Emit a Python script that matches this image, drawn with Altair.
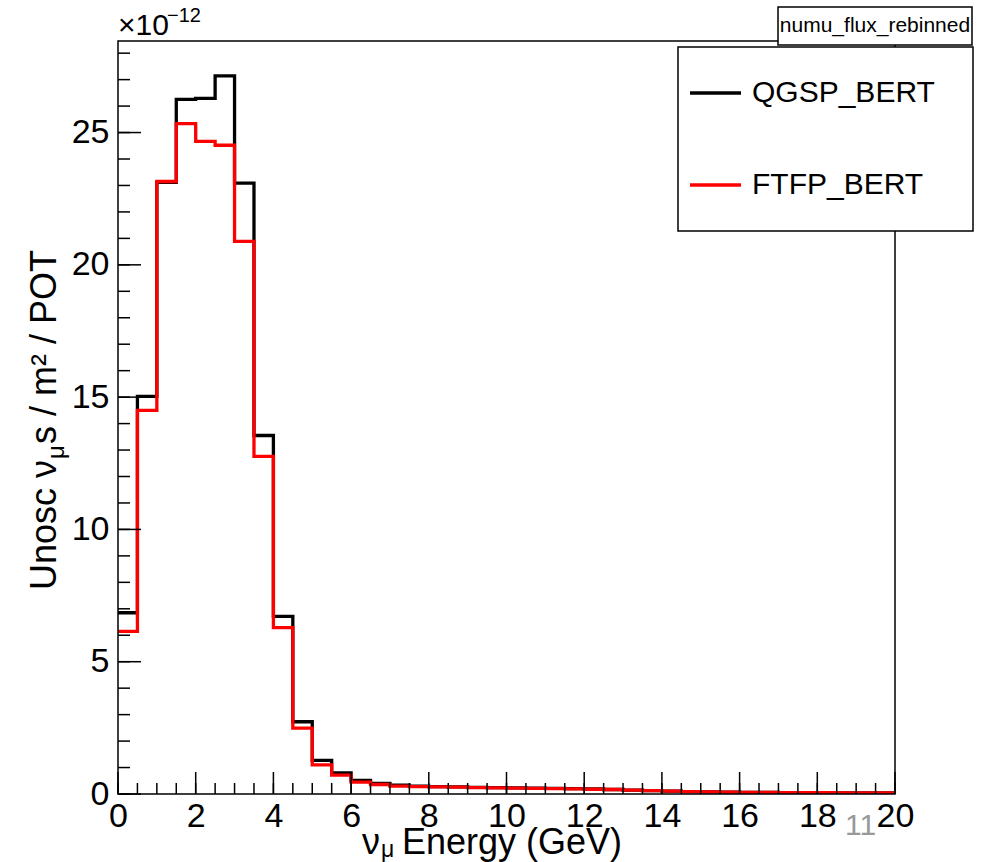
import altair as alt
import pandas as pd

# Neutrino flux per 0.5 GeV bin, in units of 1e-12 nu / m^2 / POT
bin_low = [0.0, 0.5, 1.0, 1.5, 2.0, 2.5, 3.0, 3.5, 4.0, 4.5,
           5.0, 5.5, 6.0, 6.5, 7.0, 7.5, 8.0, 8.5, 9.0, 9.5,
           10.0, 10.5, 11.0, 11.5, 12.0, 12.5, 13.0, 13.5, 14.0, 14.5,
           15.0, 15.5, 16.0, 16.5, 17.0, 17.5, 18.0, 18.5, 19.0, 19.5]
x_max = 20.0

qgsp_bert = [6.85, 15.03, 23.12, 26.25, 26.29, 27.14, 23.09, 13.55, 6.71, 2.73,
             1.27, 0.80, 0.51, 0.40, 0.33, 0.30, 0.28, 0.27, 0.25, 0.24,
             0.23, 0.22, 0.21, 0.20, 0.19, 0.17, 0.15, 0.13, 0.11, 0.09,
             0.08, 0.07, 0.06, 0.06, 0.05, 0.05, 0.05, 0.04, 0.04, 0.04]
ftfp_bert = [6.15, 14.50, 23.15, 25.34, 24.67, 24.52, 20.89, 12.76, 6.29, 2.49,
             1.10, 0.71, 0.45, 0.36, 0.30, 0.28, 0.27, 0.26, 0.24, 0.23,
             0.22, 0.21, 0.20, 0.19, 0.18, 0.17, 0.15, 0.13, 0.11, 0.09,
             0.08, 0.07, 0.06, 0.06, 0.05, 0.05, 0.05, 0.04, 0.04, 0.04]

series_names = ["QGSP_BERT", "FTFP_BERT"]
series_colors = ["#000000", "#ff0000"]

x_major = [0, 2, 4, 6, 8, 10, 12, 14, 16, 18, 20]
x_minor = [v * 0.5 for v in range(41)]
y_major = [0, 5, 10, 15, 20, 25]
y_minor = list(range(0, 29))
y_top = 28.46

W, H = 777, 753
FONT = "Liberation Sans"
AX_FS = 34
TITLE_FS = 36


def step_frame(name, values):
    xs = bin_low + [x_max]
    ys = values + [values[-1]]
    return pd.DataFrame({"E": xs, "flux": ys, "series": name})


hist = pd.concat([step_frame(series_names[0], qgsp_bert),
                  step_frame(series_names[1], ftfp_bert)])

xs = alt.Scale(domain=[0, x_max], nice=False, zero=False)
ys = alt.Scale(domain=[0, y_top], nice=False, zero=False)
col = alt.Scale(domain=series_names, range=series_colors)

x_axis = alt.Axis(values=x_major, tickSize=0, domain=False, grid=False,
                  labelFontSize=AX_FS, labelFont=FONT, labelColor="black",
                  labelPadding=5, labelFlush=False, title=None, labelOverlap=False)
y_axis = alt.Axis(values=y_major, tickSize=0, domain=False, grid=False,
                  labelFontSize=AX_FS, labelFont=FONT, labelColor="black",
                  labelPadding=9, title=None, labelOverlap=False)


def hist_layer(name):
    return alt.Chart(hist).transform_filter(
        alt.datum.series == name
    ).mark_line(interpolate="step-after", strokeWidth=3.3, clip=True).encode(
        x=alt.X("E:Q", scale=xs, axis=x_axis),
        y=alt.Y("flux:Q", scale=ys, axis=y_axis),
        color=alt.Color("series:N", scale=col, legend=None),
    )


# inward-pointing tick marks, ROOT style
xt_major = pd.DataFrame({"E": x_major})
xt_minor = pd.DataFrame({"E": x_minor})
yt_major = pd.DataFrame({"flux": y_major})
yt_minor = pd.DataFrame({"flux": y_minor})

tick_style = dict(color="black", strokeWidth=1.5)
xmaj = alt.Chart(xt_major).mark_rule(**tick_style).encode(
    x=alt.X("E:Q", scale=xs), y=alt.value(H), y2=alt.value(H - 22))
xmin = alt.Chart(xt_minor).mark_rule(**tick_style).encode(
    x=alt.X("E:Q", scale=xs), y=alt.value(H), y2=alt.value(H - 11))
ymaj = alt.Chart(yt_major).mark_rule(**tick_style).encode(
    y=alt.Y("flux:Q", scale=ys), x=alt.value(0), x2=alt.value(23))
ymin = alt.Chart(yt_minor).mark_rule(**tick_style).encode(
    y=alt.Y("flux:Q", scale=ys), x=alt.value(0), x2=alt.value(12))

one = pd.DataFrame({"k": [0]})

# frame of the plot area
frame = alt.Chart(one).mark_rect(
    fill=None, stroke="black", strokeWidth=1.5).encode(
    x=alt.value(0), x2=alt.value(W), y=alt.value(0), y2=alt.value(H))


def txt(s, x, y, size, align="left", baseline="alphabetic", angle=0, color="black"):
    kw = dict(text=s, font=FONT, fontSize=size, align=align, baseline=baseline, color=color)
    if angle:
        kw["angle"] = angle
    return alt.Chart(one).mark_text(**kw).encode(x=alt.value(x), y=alt.value(y))


# axis titles with Greek sub/superscripts
ytitle_x = -62
ytitle = (
    txt("Unosc \u03bd", ytitle_x, 549, TITLE_FS, angle=270)
    + txt("\u03bc", ytitle_x + 8, 549 - 131, 24, angle=270)
    + txt("s / m\u00b2 / POT", ytitle_x, 549 - 146, TITLE_FS, angle=270)
)
xtitle_y = 813
xtitle = (
    txt("\u03bd", 244, xtitle_y, TITLE_FS)
    + txt("\u03bc", 263, xtitle_y + 3, 23)
    + txt("Energy (GeV)", 284, xtitle_y, TITLE_FS)
)
exponent = txt("\u00d710", 0, -6, 30) + txt("\u221212", 49, -19, 20)
page_no = txt("11", 727, 794, 30, color="#999999")

# histogram title box
tbox = alt.Chart(one).mark_rect(
    fill="white", stroke="black", strokeWidth=1.5).encode(
    x=alt.value(660), x2=alt.value(854), y=alt.value(-34), y2=alt.value(4))
ttext = txt("numu_flux_rebinned", 757, -15, 21, align="center", baseline="middle")

# legend box and its entries
lbox = alt.Chart(one).mark_rect(
    fill="white", stroke="black", strokeWidth=1.5).encode(
    x=alt.value(560), x2=alt.value(855), y=alt.value(6), y2=alt.value(190))

legend_layers = []
for i, (name, colr) in enumerate(zip(series_names, series_colors)):
    row_y = 52 + 92 * i
    legend_layers.append(
        alt.Chart(one).mark_rule(strokeWidth=3.3, color=colr).encode(
            x=alt.value(572), x2=alt.value(623), y=alt.value(row_y)))
    legend_layers.append(txt(name, 634, row_y, 30, baseline="middle"))

chart = alt.layer(
    hist_layer(series_names[0]), hist_layer(series_names[1]),
    xmin, xmaj, ymin, ymaj, frame,
    ytitle, xtitle, exponent, page_no,
    lbox, *legend_layers, tbox, ttext,
).properties(
    width=W, height=H,
    autosize=alt.AutoSizeParams(type="none"),
    padding={"left": 118, "top": 41, "right": 95, "bottom": 68},
    background="white",
).configure_view(stroke=None)

chart.save("out.html", embed_options={"renderer": "svg", "actions": False})
